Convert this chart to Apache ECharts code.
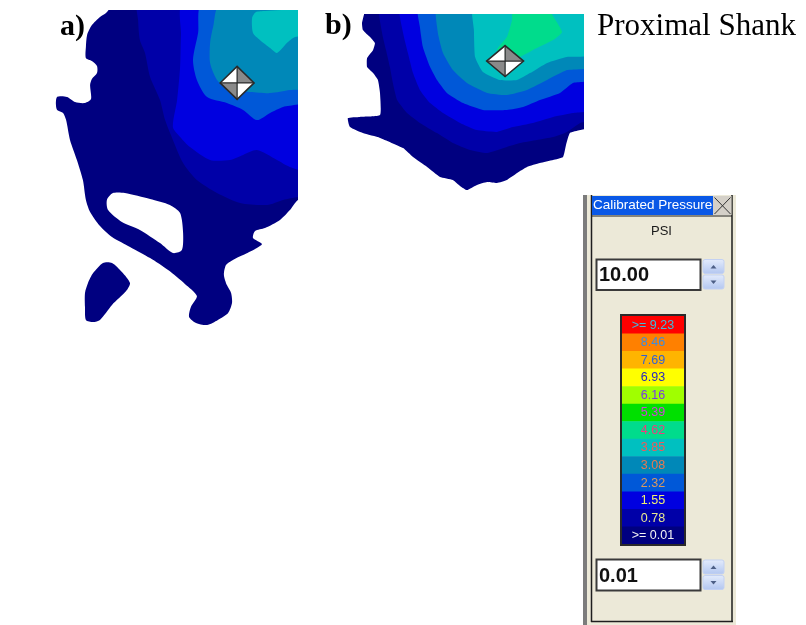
<!DOCTYPE html>
<html>
<head>
<meta charset="utf-8">
<script src="https://cdn.jsdelivr.net/npm/echarts@6/dist/echarts.min.js"></script>
<style>
  html, body { margin: 0; padding: 0; background: #ffffff; }
  #main { width: 806px; height: 625px; }
</style>
</head>
<body>
<div id="main"></div>
<script>
// Calibrated pressure scale (PSI), highest level first
const levelLabels = ['>= 9.23', '8.46', '7.69', '6.93', '6.16', '5.39', '4.62',
                     '3.85', '3.08', '2.32', '1.55', '0.78', '>= 0.01'];
const levelColors = ['#FF0000', '#FF8000', '#FFB400', '#FFFF00', '#A0FF00', '#00E000', '#00DC8C',
                     '#00C0C0', '#0088B8', '#0058D8', '#0000E0', '#0000A8', '#000080'];
const labelColors = ['#3ABCE0', '#3C8CE0', '#3060D8', '#2828C0', '#7838E8', '#D040D8', '#F03C80',
                     '#F05A5A', '#E87850', '#D89A60', '#F0F070', '#E8E890', '#F4F4F4'];

// Index into the scale for each contour band
const LVL_001 = 12, LVL_078 = 11, LVL_155 = 10, LVL_232 = 9, LVL_308 = 8, LVL_385 = 7, LVL_462 = 6;

// Sensor extents (sensel units)
const sensorA = { cols: 81, rows: 106 };
const sensorB = { cols: 79, rows: 59 };

// ---- a) contour regions: each ring encloses pressure >= its band ----
const a_ge001 = [[20,-2],[84,-2],[84,63.3],[81,63.3],[78.3,66.7],[75,70],[70,72.7],[66.7,73.7],[66,76],
  [69,78],[66.7,79.7],[62.7,81.7],[59.3,83.3],[57,85],[56.3,88.3],[57.3,91.7],[58.7,94.3],[59,97.7],
  [57.7,101],[54.3,103.3],[50.7,105],[47,104.3],[44.7,102.3],[45.3,99],[47.3,95.3],[43.3,91.3],
  [37.7,86.7],[31.7,82.7],[25,79],[19,75.7],[15,72],[11.7,67.3],[10.3,63.3],[9.3,56.7],[7.3,50],
  [5,43.3],[3.7,36.7],[2.7,34.3],[0.7,33.3],[0.3,31.3],[0.7,29],[4,29],[6.7,30.7],[10,31],[12,29.7],
  [11.7,25],[12.3,23],[14,21],[14,18.7],[12.3,17],[10.3,16],[10.3,12.3],[10.7,8.3],[12.3,5],[15,2.3],[17,1]];
const a_hole = [[17.3,63.3],[19.3,61],[23.3,61],[31.7,63],[38.3,65],[41.7,67.7],[42.7,74.3],[42.3,80],
  [39.3,81],[35,77.7],[28.3,73.3],[22.3,70.7],[17.7,66.7]];
const a_island = [[16,84.3],[19,84.3],[22.3,87.3],[25,91],[23.7,93.7],[19,98.3],[15,103.3],[12.7,104],
  [10.3,103.3],[10,99],[10,94.3],[11,91],[12.7,87.7]];
const a_ge078 = [[27.7,-2],[27.7,3.3],[28.3,10],[30,14.3],[31.7,22.3],[35,30],[36.7,36.7],[39.3,43.3],
  [42.7,51],[47.3,56.7],[54,61],[61.7,64.3],[70.7,65],[76,63.3],[81,62.3],[84,62.3],[84,-2]];
const a_ge155 = [[42.7,-2],[42,8.3],[41.7,19],[40.7,30],[39.3,39],[41.7,42.3],[45,45.7],[51.7,50],
  [58.3,50],[62.7,48.3],[67.3,46.7],[74,50],[78.3,52.3],[84,53.3],[84,-2]];
const a_ge232 = [[49,-2],[47.7,7.7],[46,16.7],[47.3,23.3],[50.7,29],[57.3,31],[62.7,33.3],[67.3,36.7],
  [71.7,34.3],[76,32.3],[84,30],[84,-2]];
const a_ge308 = [[55,-2],[52.7,5.7],[51.7,11],[51.7,17.7],[54,23.3],[58.3,26.7],[65,27.3],[71.7,27.7],
  [78.3,26.7],[84,25.7],[84,-2]];
const a_ge385 = [[67,0.7],[65.7,2.7],[66,7.7],[68.3,10],[71.7,12.7],[74,14.3],[77.3,11],[80,9],
  [84,8.3],[84,0.5],[70,0.3]];
const a_center = [[60.7, 24.3]];

// ---- b) contour regions ----
const b_ge001 = [[6,-3],[81,-3],[81,37.7],[77.7,38.7],[74.3,39.7],[73,43.7],[72,47.7],[68.7,48.7],
  [64.3,49.7],[60,51],[56.7,53],[53.3,55.3],[50,56.3],[46.7,56],[43.3,57],[40,58.7],[37.7,57.3],
  [35.3,55.3],[31,54.3],[26.7,51],[22,47.7],[18.7,44.7],[11,41.3],[5.3,39.7],[1,37.7],[0.3,34.7],
  [4.3,34.3],[11,33.7],[11,26.3],[10.3,22],[8.7,19.7],[6.7,17.7],[6.7,14.7],[8.7,12],[9.3,9.7],
  [7.7,7.7],[5.3,5.3],[5,3],[5.7,0]];
const b_ge078 = [[11,-3],[11.7,6.3],[13,12],[14.3,17.7],[15.3,23],[16.7,28.7],[20,33],[24.3,36.3],
  [30,39.7],[35.3,43],[41,45.3],[46.7,46.3],[53.3,44.3],[57.7,43],[63.3,42],[68.7,41],[73.3,39.3],
  [77.7,36.3],[81,35.3],[81,-3]];
const b_ge155 = [[17.7,-3],[18.7,6.3],[20.3,13],[22,19.7],[24.3,25.3],[27.7,29.7],[32,33],[37.7,36.3],
  [43.3,38.7],[50,39.3],[55.3,37.7],[62,36.3],[68.7,34.3],[75.3,33],[81,32],[81,-3]];
const b_ge232 = [[23.7,-3],[24.3,4.3],[25.3,11],[27.7,17.7],[30,22],[33.3,26.3],[38.7,29.7],[45.3,32],
  [53.3,32],[58.7,31],[64.3,28.7],[71,26.3],[75.3,23],[81,22],[81,-3]];
const b_ge308 = [[30,-3],[30.3,6.3],[32,13],[35.3,18.7],[40,23],[46.7,26.3],[53.3,27],[60,25.3],
  [66.7,22],[73.3,18.7],[81,17.7],[81,-3]];
const b_ge385 = [[42,-3],[42.3,5.3],[42.7,14.3],[45.3,19.3],[51,22],[56.7,22],[61,19.7],[66.7,16.3],
  [73.3,14.3],[81,13.7],[81,-3]];
const b_ge462 = [[55.3,-3],[55,2],[53.3,7.7],[50,12],[54.3,15.3],[57.7,14.3],[62,12],[68.7,8.7],
  [71.7,6],[68.3,0],[67.7,-3]];
const b_center = [[52.7, 15.7]];

const regionsA = [
  { ring: a_ge001, lvl: LVL_001 }, { ring: a_island, lvl: LVL_001 }, { ring: a_hole, lvl: -1 },
  { ring: a_ge078, lvl: LVL_078 }, { ring: a_ge155, lvl: LVL_155 }, { ring: a_ge232, lvl: LVL_232 },
  { ring: a_ge308, lvl: LVL_308 }, { ring: a_ge385, lvl: LVL_385 }
];
const regionsB = [
  { ring: b_ge001, lvl: LVL_001 }, { ring: b_ge078, lvl: LVL_078 }, { ring: b_ge155, lvl: LVL_155 },
  { ring: b_ge232, lvl: LVL_232 }, { ring: b_ge308, lvl: LVL_308 }, { ring: b_ge385, lvl: LVL_385 },
  { ring: b_ge462, lvl: LVL_462 }
];

const uiFont = '"Liberation Sans", Arial, sans-serif';
const serifFont = '"Liberation Serif", "Times New Roman", serif';

function contourSeries(regions, axisIndex, smooth) {
  return {
    type: 'custom',
    coordinateSystem: 'cartesian2d',
    xAxisIndex: axisIndex, yAxisIndex: axisIndex,
    clip: true,
    silent: true,
    data: regions.map((r, i) => [i, i]),
    renderItem: function (params, api) {
      const r = regions[params.dataIndex];
      return {
        type: 'polygon',
        shape: { points: r.ring.map(p => api.coord(p)), smooth: smooth },
        style: { fill: r.lvl < 0 ? '#ffffff' : levelColors[r.lvl], stroke: null }
      };
    }
  };
}

// Centre-of-force marker: diamond split into four shaded triangles
function markerSeries(point, axisIndex, hw, hh) {
  return {
    type: 'custom',
    coordinateSystem: 'cartesian2d',
    xAxisIndex: axisIndex, yAxisIndex: axisIndex,
    silent: true, z: 5,
    data: point,
    renderItem: function (params, api) {
      const c = api.coord([api.value(0), api.value(1)]);
      const x = c[0], y = c[1];
      const T = [x, y - hh], R = [x + hw, y], B = [x, y + hh], L = [x - hw, y];
      const tri = (p, q, fill) => ({ type: 'polygon', shape: { points: [[x, y], p, q] }, style: { fill: fill } });
      return {
        type: 'group',
        children: [
          tri(L, T, '#ffffff'), tri(T, R, '#8a8a8a'), tri(R, B, '#ffffff'), tri(B, L, '#8a8a8a'),
          { type: 'line', shape: { x1: L[0], y1: y, x2: R[0], y2: y }, style: { stroke: '#2a2a2a', lineWidth: 1.2 } },
          { type: 'line', shape: { x1: x, y1: T[1], x2: x, y2: B[1] }, style: { stroke: '#2a2a2a', lineWidth: 1.2 } },
          { type: 'polygon', shape: { points: [T, R, B, L] }, style: { fill: null, stroke: '#2a2a2a', lineWidth: 1.5 } }
        ]
      };
    }
  };
}

// Colour scale: one cell per pressure band, with its threshold written inside
const scaleSeries = {
  type: 'custom',
  coordinateSystem: 'cartesian2d',
  xAxisIndex: 2, yAxisIndex: 2,
  silent: true,
  data: levelLabels.map((lab, i) => [0, lab, i]),
  renderItem: function (params, api) {
    const i = api.value(2);
    const c = api.coord([0, levelLabels[i]]);
    const s = api.size([1, 1]);
    return {
      type: 'group',
      children: [
        { type: 'rect', shape: { x: c[0] - s[0] / 2, y: c[1] - s[1] / 2, width: s[0], height: s[1] + 0.5 },
          style: { fill: levelColors[i] } },
        { type: 'text', x: c[0], y: c[1] + 0.5,
          style: { text: levelLabels[i], fill: labelColors[i], font: '12.5px ' + uiFont,
            align: 'center', verticalAlign: 'middle', textAlign: 'center', textVerticalAlign: 'middle' } }
      ]
    };
  }
};

function spinner(x, y1, y2) {
  const grad = { type: 'linear', x: 0, y: 0, x2: 0, y2: 1,
    colorStops: [{ offset: 0, color: '#e4ecfc' }, { offset: 1, color: '#b2c6f0' }] };
  const h = 14;
  return [
    { type: 'rect', shape: { x: x, y: y1, width: 21, height: h, r: 2 }, style: { fill: grad, stroke: '#c3d1f2', lineWidth: 1 } },
    { type: 'rect', shape: { x: x, y: y2, width: 21, height: h, r: 2 }, style: { fill: grad, stroke: '#c3d1f2', lineWidth: 1 } },
    { type: 'polygon', shape: { points: [[x + 7.5, y1 + 9], [x + 10.5, y1 + 5.5], [x + 13.5, y1 + 9]] }, style: { fill: '#4d5f86' } },
    { type: 'polygon', shape: { points: [[x + 7.5, y2 + 5.5], [x + 10.5, y2 + 9], [x + 13.5, y2 + 5.5]] }, style: { fill: '#4d5f86' } }
  ];
}

function inputBox(y, h, text) {
  return [
    { type: 'rect', shape: { x: 596.5, y: y, width: 104, height: h }, style: { fill: '#ffffff', stroke: '#3a3a3a', lineWidth: 2 } },
    { type: 'text', x: 599, y: y + h / 2 + 1, style: { text: text, font: 'bold 20px ' + uiFont, fill: '#111111',
      align: 'left', verticalAlign: 'middle', textAlign: 'left', textVerticalAlign: 'middle' } }
  ];
}

const chart = echarts.init(document.getElementById('main'), null, { renderer: 'canvas' });
chart.setOption({
  animation: false,
  backgroundColor: '#ffffff',
  grid: [
    { left: 55, top: 10, width: 243, height: 318 },
    { left: 347, top: 14, width: 237, height: 177 },
    { left: 622, top: 316, width: 62, height: 228 }
  ],
  xAxis: [
    { type: 'value', gridIndex: 0, min: 0, max: sensorA.cols, show: false },
    { type: 'value', gridIndex: 1, min: 0, max: sensorB.cols, show: false },
    { type: 'category', gridIndex: 2, data: [0], show: false }
  ],
  yAxis: [
    { type: 'value', gridIndex: 0, min: 0, max: sensorA.rows, inverse: true, show: false },
    { type: 'value', gridIndex: 1, min: 0, max: sensorB.rows, inverse: true, show: false },
    { type: 'category', gridIndex: 2, data: levelLabels, inverse: true, show: false }
  ],
  series: [
    contourSeries(regionsA, 0, 0.25),
    contourSeries(regionsB, 1, 0.15),
    markerSeries(a_center, 0, 17, 16.5),
    markerSeries(b_center, 1, 18.5, 15.5),
    scaleSeries
  ],
  graphic: [
    { type: 'text', x: 60, y: 27, style: { text: 'a)', font: 'bold 30px ' + serifFont, fill: '#000',
      verticalAlign: 'middle', textVerticalAlign: 'middle' } },
    { type: 'text', x: 325, y: 26, style: { text: 'b)', font: 'bold 30px ' + serifFont, fill: '#000',
      verticalAlign: 'middle', textVerticalAlign: 'middle' } },
    { type: 'text', x: 597, y: 27, style: { text: 'Proximal Shank', font: '31px ' + serifFont, fill: '#000',
      verticalAlign: 'middle', textVerticalAlign: 'middle' } },

    // Pressure scale panel
    { type: 'rect', z: -1, shape: { x: 587, y: 195, width: 149, height: 430 }, style: { fill: '#ECE9D8' } },
    { type: 'rect', shape: { x: 583, y: 195, width: 4, height: 430 }, style: { fill: '#7c7c7c' } },
    { type: 'line', shape: { x1: 591.5, y1: 195, x2: 591.5, y2: 622 }, style: { stroke: '#1e1e1e', lineWidth: 1.5 } },
    { type: 'line', shape: { x1: 732, y1: 195, x2: 732, y2: 622 }, style: { stroke: '#1e1e1e', lineWidth: 1.5 } },
    { type: 'line', shape: { x1: 591, y1: 621.5, x2: 733, y2: 621.5 }, style: { stroke: '#1e1e1e', lineWidth: 1.5 } },
    { type: 'rect', shape: { x: 592, y: 196, width: 121, height: 19 }, style: { fill: '#0A58E6' } },
    { type: 'text', x: 593, y: 205.5, style: { text: 'Calibrated Pressure', font: '13.5px ' + uiFont, fill: '#ffffff',
      verticalAlign: 'middle', textVerticalAlign: 'middle' } },
    { type: 'rect', shape: { x: 713, y: 196, width: 18.5, height: 19 }, style: { fill: '#D4D0C8' } },
    { type: 'line', shape: { x1: 714.5, y1: 197.5, x2: 730.5, y2: 214 }, style: { stroke: '#333', lineWidth: 1 } },
    { type: 'line', shape: { x1: 730.5, y1: 197.5, x2: 714.5, y2: 214 }, style: { stroke: '#333', lineWidth: 1 } },
    { type: 'line', shape: { x1: 592, y1: 216, x2: 732, y2: 216 }, style: { stroke: '#1e1e1e', lineWidth: 1 } },
    { type: 'text', x: 661.5, y: 231.5, style: { text: 'PSI', font: '13px ' + uiFont, fill: '#1a1a1a',
      align: 'center', verticalAlign: 'middle', textAlign: 'center', textVerticalAlign: 'middle' } },
    ...inputBox(259.5, 30.5, '10.00'),
    ...spinner(703, 259.5, 275),
    ...inputBox(559.5, 31, '0.01'),
    ...spinner(703, 560, 575.5),
    { type: 'rect', z: 10, shape: { x: 621, y: 315, width: 64, height: 230 }, style: { fill: null, stroke: '#2a2a2a', lineWidth: 2 } }
  ]
});
</script>
</body>
</html>
